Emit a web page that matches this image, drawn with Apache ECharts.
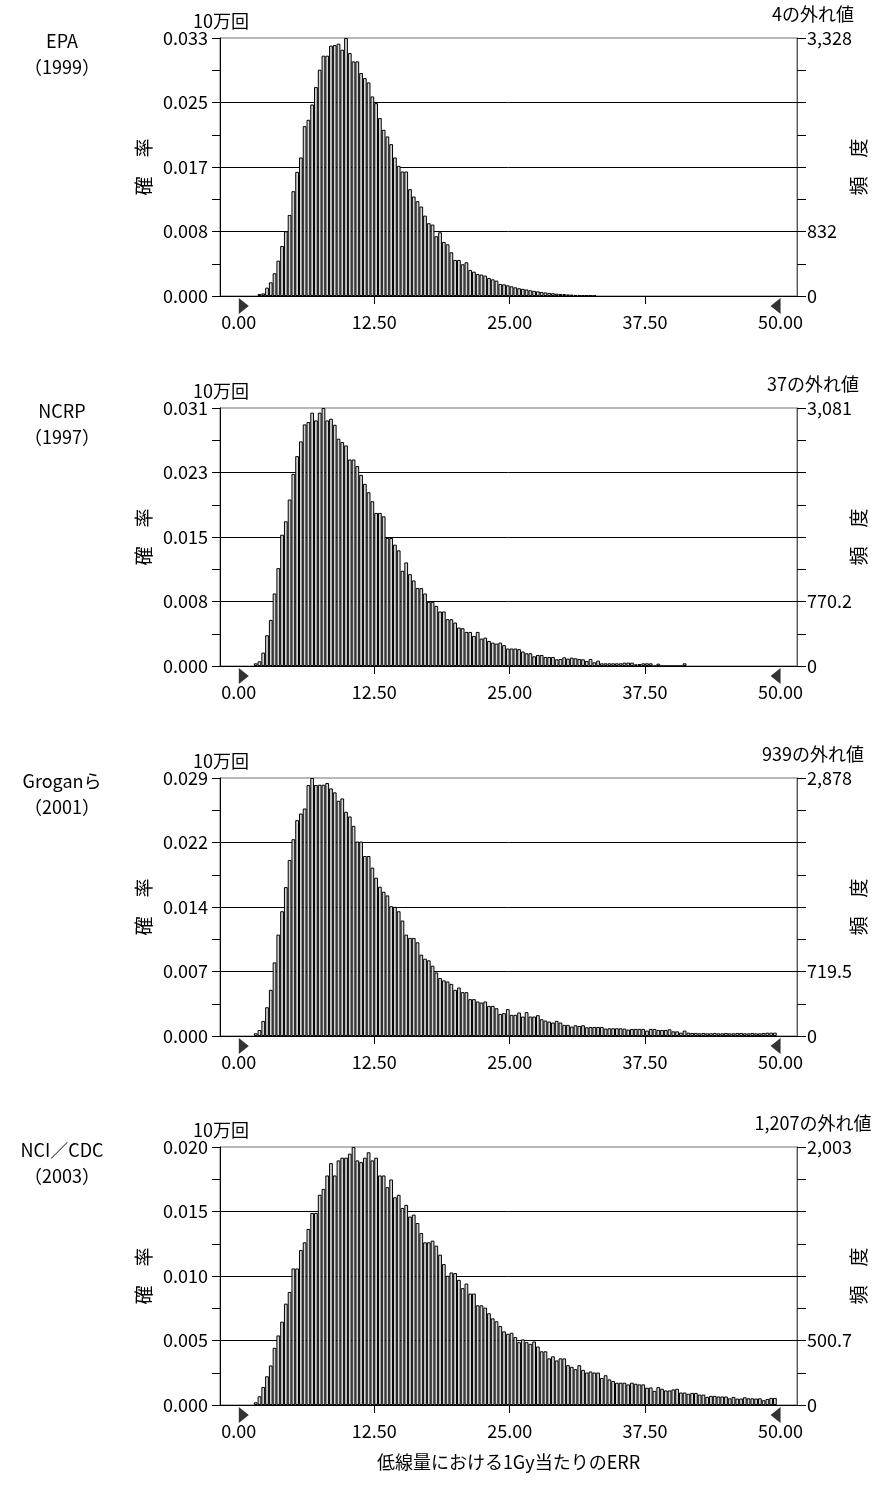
<!DOCTYPE html>
<html><head><meta charset="utf-8">
<script src="https://cdn.jsdelivr.net/npm/echarts@6/dist/echarts.min.js"></script>
<style>html,body{margin:0;padding:0;background:#fff}#c{width:881px;height:1486px}</style>
</head><body><div id="c"></div>
<script>
// ---------------- data ----------------
const panelNames = ['EPA', 'NCRP', 'Groganら', 'NCI／CDC'];
const panelYears = ['（1999）', '（1997）', '（2001）', '（2003）'];
const outlierLabels = ['4の外れ値', '37の外れ値', '939の外れ値', '1,207の外れ値'];
const trialsLabel = '10万回';
const trials = 100000;
const maxFreq = [3328, 3081, 2878, 2003];
const leftAxisName = '確　率';
const rightAxisName = '頻　度';
const xTitle = '低線量における1Gy当たりのERR';
const xLabelValues = [0, 12.5, 25, 37.5, 50];
const xTickValues = [12.5, 25, 37.5];
const rangeMin = 0, rangeMax = 50, binCount = 144;
const firstBin = [5, 4, 4, 4];

const epaCounts = [26,34,108,176,293,456,646,835,1046,1352,
  1601,1787,2191,2273,2471,2695,2919,3100,3100,3229,
  3237,3255,3177,3328,3134,3026,3026,2876,2811,2755,
  2574,2488,2295,2144,2058,1959,1787,1679,1606,1606,
  1378,1283,1223,1154,1037,939,921,771,822,697,
  667,564,465,465,409,435,336,314,284,276,
  263,232,215,198,155,
  150,138,125,112,100,92,84,74,66,60,52,46,40,36,30,26,24,20,18,14,12,10,8,6,5];

const ncrpCounts = [32,56,160,367,551,866,1169,1568,1728,1988,
  2295,2506,2682,2885,2913,3025,2933,3025,3081,2933,
  2953,2881,2714,2674,2634,2466,2466,2387,2283,2175,
  2075,1968,1828,1828,1788,1529,1529,1449,1381,1137,
  1237,1097,1022,930,930,866,766,766,718,651,
  651,559,559,519,459,451,407,407,359,407,
  327,339,299,279,267,279,
  249,209,209,209,201,173,152,152,116,132,
  132,108,108,108,80,84,104,88,100,92,
  84,80,60,84,44,64,32,32,32,32,
  32,32,40,40,40,20,24,32,32,32,
  0,28,0,0,0,0,0,0,32];

const groganCounts = [30,67,168,321,515,821,1131,1392,1661,1964,
  2195,2408,2482,2538,2800,2878,2800,2803,2803,2822,
  2762,2718,2624,2650,2501,2449,2344,2169,2169,2008,
  2008,1878,1766,1665,1609,1568,1448,1441,1392,1288,
  1131,1094,1094,1045,907,862,844,784,709,646,
  620,608,582,515,541,489,489,411,411,385,
  373,385,336,336,310,246,
  255,300,236,236,262,217,266,217,217,232,
  187,172,161,150,169,150,124,124,105,120,
  112,120,97,101,101,101,101,82,86,86,
  86,86,82,71,79,79,79,79,60,79,
  79,67,67,67,75,52,52,37,60,37,
  34,34,30,34,30,30,34,30,30,34,30,30,34,34,30,30,34,30,30,34,37,37,37];

const nciCounts = [21,68,140,223,307,444,540,647,787,878,
  1060,1060,1203,1263,1367,1491,1491,1632,1678,1782,
  1878,1782,1899,1920,1920,1951,2003,1899,1886,1920,
  1962,1899,1920,1782,1782,1691,1751,1613,1632,1530,
  1554,1463,1478,1413,1335,1263,1263,1276,1237,1167,
  1094,1003,1029,1024,972,907,943,865,865,774,
  774,756,712,673,650,613,
  572,553,561,527,488,509,488,475,493,454,
  417,417,362,378,346,362,362,309,296,278,
  309,273,252,260,252,252,210,231,199,186,
  173,173,173,160,173,165,160,160,134,136,
  110,139,126,113,113,121,126,97,97,87,
  94,94,81,81,63,71,71,66,66,66,
  52,63,50,50,60,52,52,50,52,37,47,55,55];

const panelCounts = [epaCounts, ncrpCounts, groganCounts, nciCounts];

// ---------------- layout ----------------
const FONT = '"Noto Sans CJK JP", "Noto Sans", sans-serif';
const gridLeft = 220, gridWidth = 577, gridHeight = 258;
const gridTops = [38, 408, 778, 1147];
const xMin = -1.735, xMax = 51.52;
const binWidth = (rangeMax - rangeMin) / binCount;
const barPx = gridWidth / (xMax - xMin) * binWidth;

function fmtFreq(v) {
  if (Math.abs(v - Math.round(v)) < 1e-9) return Math.round(v).toLocaleString('en-US');
  return (Math.floor(v * 10 + 1e-9) / 10).toFixed(1);
}

const grids = [], xAxes = [], yAxes = [], series = [], graphics = [];
panelCounts.forEach((counts, p) => {
  const M = maxFreq[p];
  const top = gridTops[p];
  grids.push({left: gridLeft, top: top, width: gridWidth, height: gridHeight,
    outerBoundsMode: 'none', containLabel: false,
    show: true, borderColor: '#707070', borderWidth: 1, backgroundColor: 'transparent'});
  xAxes.push({
    type: 'value', gridIndex: p, min: xMin, max: xMax,
    axisLine: {show: true, onZero: false, lineStyle: {color: '#000', width: 1}},
    axisTick: {show: true, customValues: xTickValues, length: 8, lineStyle: {color: '#000'}},
    axisLabel: {customValues: xLabelValues, formatter: v => v.toFixed(2), margin: 17,
      color: '#000', fontSize: 18, fontFamily: FONT},
    splitLine: {show: false},
    name: p === 3 ? xTitle : '', nameLocation: 'middle', nameGap: 48, nameMoveOverlap: false,
    nameTextStyle: {color: '#000', fontSize: 18, fontFamily: FONT}
  });
  yAxes.push({
    type: 'value', gridIndex: p, position: 'left', min: 0, max: M, interval: M / 4,
    axisLine: {show: true, onZero: false, lineStyle: {color: '#000', width: 1}},
    axisTick: {show: true, length: 8, lineStyle: {color: '#000'}},
    minorTick: {show: true, splitNumber: 2, length: 8, lineStyle: {color: '#000'}},
    axisLabel: {formatter: v => (v / trials).toFixed(3), margin: 12, color: '#000',
      fontSize: 18, fontFamily: FONT},
    splitLine: {show: true, showMinLine: false, showMaxLine: false, lineStyle: {color: '#000', width: 1}},
    name: leftAxisName, nameLocation: 'middle', nameRotate: 90, nameGap: 67, nameMoveOverlap: false,
    nameTextStyle: {color: '#000', fontSize: 19, fontFamily: FONT}
  });
  yAxes.push({
    type: 'value', gridIndex: p, position: 'right', min: 0, max: M, interval: M / 4,
    axisLine: {show: true, onZero: false, lineStyle: {color: '#555', width: 1}},
    axisTick: {show: true, length: 9, lineStyle: {color: '#000'}},
    minorTick: {show: true, splitNumber: 2, length: 9, lineStyle: {color: '#000'}},
    axisLabel: {formatter: v => (Math.abs(v) < 1e-9 || Math.abs(v - M / 4) < 1e-6 || Math.abs(v - M) < 1e-6) ? fmtFreq(v) : '',
      margin: 10, color: '#000', fontSize: 18, fontFamily: FONT},
    splitLine: {show: false},
    name: rightAxisName, nameLocation: 'middle', nameRotate: 90, nameGap: 52, nameMoveOverlap: false,
    nameTextStyle: {color: '#000', fontSize: 19, fontFamily: FONT}
  });
  series.push({
    type: 'bar', xAxisIndex: p, yAxisIndex: 2 * p,
    data: counts.map((c, i) => [rangeMin + (firstBin[p] + i + 0.5) * binWidth, c]),
    barWidth: barPx,
    itemStyle: {color: '#d4d4d4', borderColor: '#000', borderWidth: 1},
    silent: true, animation: false
  });
  series.push({
    type: 'scatter', xAxisIndex: p, yAxisIndex: 2 * p, clip: false, silent: true, z: 10,
    symbolSize: [10, 16],
    itemStyle: {color: '#000'},
    data: [
      {value: [rangeMin, 0], symbol: 'path://M0,0L10,8L0,16Z', symbolOffset: [5, 10]},
      {value: [rangeMax, 0], symbol: 'path://M10,0L0,8L10,16Z', symbolOffset: [-5, 10]}
    ],
    animation: false
  });
  const st = (text, align) => ({text: text, fill: '#000', font: '18px ' + FONT, align: align, verticalAlign: 'middle'});
  graphics.push({type: 'text', x: 221, y: top - 17, style: st(trialsLabel, 'center'), silent: true});
  graphics.push({type: 'text', x: 813, y: top - 24, style: st(outlierLabels[p], 'center'), silent: true});
  graphics.push({type: 'text', x: 62, y: top + 3, style: st(panelNames[p], 'center'), silent: true});
  graphics.push({type: 'text', x: 62, y: top + 29, style: st(panelYears[p], 'center'), silent: true});
});

const chart = echarts.init(document.getElementById('c'), null, {renderer: 'canvas'});
chart.setOption({
  animation: false,
  backgroundColor: '#fff',
  textStyle: {fontFamily: FONT},
  grid: grids, xAxis: xAxes, yAxis: yAxes, series: series, graphic: graphics
});
</script></body></html>
